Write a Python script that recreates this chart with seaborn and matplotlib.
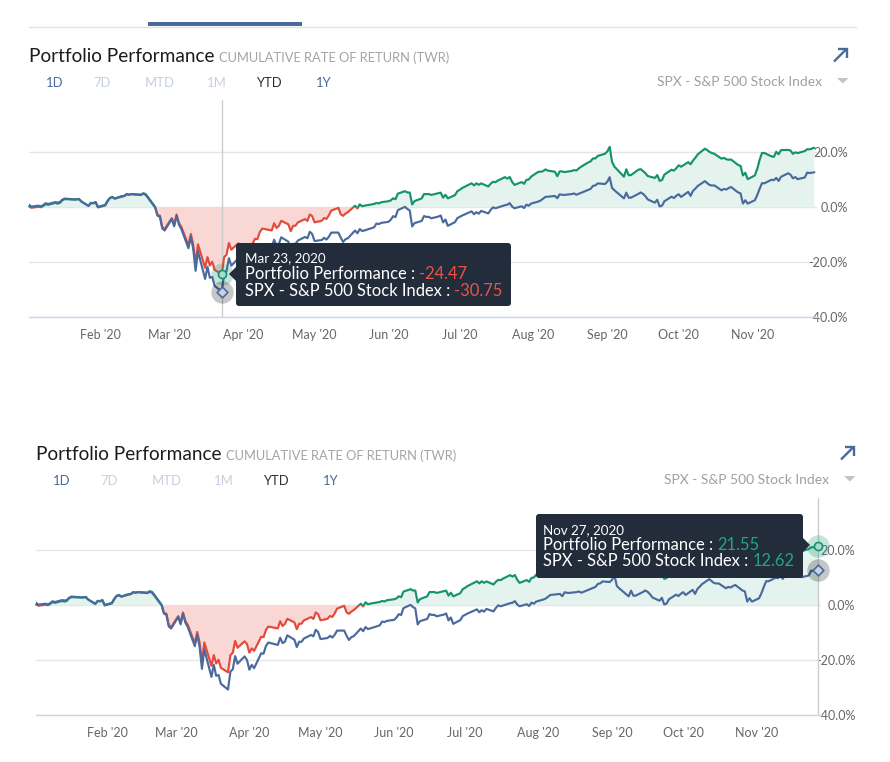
import numpy as np
import pandas as pd
import matplotlib
matplotlib.use("Agg")
import matplotlib.pyplot as plt
import matplotlib.dates as mdates
from matplotlib.patches import Rectangle, Polygon, FancyBboxPatch
import seaborn as sns

W, H = 890, 762

# ---------------- data ----------------
trade_days = [
    "01-02", "01-03", "01-06", "01-07", "01-08", "01-09", "01-10", "01-13", "01-14", "01-15", "01-16",
    "01-17", "01-21", "01-22", "01-23", "01-24", "01-27", "01-28", "01-29", "01-30", "01-31",
    "02-03", "02-04", "02-05", "02-06", "02-07", "02-10", "02-11", "02-12", "02-13", "02-14",
    "02-18", "02-19", "02-20", "02-21", "02-24", "02-25", "02-26", "02-27", "02-28",
    "03-02", "03-03", "03-04", "03-05", "03-06", "03-09", "03-10", "03-11", "03-12", "03-13", "03-16",
    "03-17", "03-18", "03-19", "03-20", "03-23", "03-24", "03-25", "03-26", "03-27", "03-30", "03-31",
    "04-01", "04-02", "04-03", "04-06", "04-07", "04-08", "04-09", "04-13", "04-14", "04-15", "04-16",
    "04-17", "04-20", "04-21", "04-22", "04-23", "04-24", "04-27", "04-28", "04-29", "04-30",
    "05-01", "05-04", "05-05", "05-06", "05-07", "05-08", "05-11", "05-12", "05-13", "05-14", "05-15",
    "05-18", "05-19", "05-20", "05-21", "05-22", "05-26", "05-27", "05-28", "05-29",
    "06-01", "06-02", "06-03", "06-04", "06-05", "06-08", "06-09", "06-10", "06-11", "06-12", "06-15",
    "06-16", "06-17", "06-18", "06-19", "06-22", "06-23", "06-24", "06-25", "06-26", "06-29", "06-30",
    "07-01", "07-02", "07-06", "07-07", "07-08", "07-09", "07-10", "07-13", "07-14", "07-15", "07-16",
    "07-17", "07-20", "07-21", "07-22", "07-23", "07-24", "07-27", "07-28", "07-29", "07-30", "07-31",
    "08-03", "08-04", "08-05", "08-06", "08-07", "08-10", "08-11", "08-12", "08-13", "08-14", "08-17",
    "08-18", "08-19", "08-20", "08-21", "08-24", "08-25", "08-26", "08-27", "08-28", "08-31",
    "09-01", "09-02", "09-03", "09-04", "09-08", "09-09", "09-10", "09-11", "09-14", "09-15", "09-16",
    "09-17", "09-18", "09-21", "09-22", "09-23", "09-24", "09-25", "09-28", "09-29", "09-30",
    "10-01", "10-02", "10-05", "10-06", "10-07", "10-08", "10-09", "10-12", "10-13", "10-14", "10-15",
    "10-16", "10-19", "10-20", "10-21", "10-22", "10-23", "10-26", "10-27", "10-28", "10-29", "10-30",
    "11-02", "11-03", "11-04", "11-05", "11-06", "11-09", "11-10", "11-11", "11-12", "11-13", "11-16",
    "11-17", "11-18", "11-19", "11-20", "11-23", "11-24", "11-25", "11-27",
]

SPX_BASE = 3230.78  # close of 2019-12-31
spx_close = [
    3257.85, 3234.85, 3246.28, 3237.18, 3253.05, 3274.70, 3265.35, 3288.13, 3283.15, 3289.29, 3316.81,
    3329.62, 3320.79, 3321.75, 3325.54, 3295.47, 3243.63, 3276.24, 3273.40, 3283.66, 3225.52,
    3248.92, 3297.59, 3334.69, 3345.78, 3327.71, 3352.09, 3357.75, 3379.45, 3373.94, 3380.16,
    3370.29, 3386.15, 3373.23, 3337.75, 3225.89, 3128.21, 3116.39, 2978.76, 2954.22,
    3090.23, 3003.37, 3130.12, 3023.94, 2972.37, 2746.56, 2882.23, 2741.38, 2480.64, 2711.02, 2386.13,
    2529.19, 2398.10, 2409.39, 2304.92, 2237.40, 2447.33, 2475.56, 2630.07, 2541.47, 2626.65, 2584.59,
    2470.50, 2526.90, 2488.65, 2663.68, 2659.41, 2749.98, 2789.82, 2761.63, 2846.06, 2783.36, 2799.55,
    2874.56, 2823.16, 2736.56, 2799.31, 2797.80, 2836.74, 2878.48, 2863.39, 2939.51, 2912.43,
    2830.71, 2842.74, 2868.44, 2848.42, 2881.19, 2929.80, 2930.32, 2870.12, 2820.00, 2852.50, 2863.70,
    2953.91, 2922.94, 2971.61, 2948.51, 2955.45, 2991.77, 3036.13, 3029.73, 3044.31,
    3055.73, 3080.82, 3122.87, 3112.35, 3193.93, 3232.39, 3207.18, 3190.14, 3002.10, 3041.31, 3066.59,
    3124.74, 3113.49, 3115.34, 3097.74, 3117.86, 3131.29, 3050.33, 3083.76, 3009.05, 3053.24, 3100.29,
    3115.86, 3130.01, 3179.72, 3145.32, 3169.94, 3152.05, 3185.04, 3155.22, 3197.52, 3226.56, 3215.57,
    3224.73, 3251.84, 3257.30, 3276.02, 3235.66, 3215.63, 3239.41, 3218.44, 3258.44, 3246.22, 3271.12,
    3294.61, 3306.51, 3327.77, 3349.16, 3351.28, 3360.47, 3333.69, 3380.35, 3373.43, 3372.85, 3381.99,
    3389.78, 3374.85, 3385.51, 3397.16, 3431.28, 3443.62, 3478.73, 3484.55, 3508.01, 3500.31,
    3526.65, 3580.84, 3455.06, 3426.96, 3331.84, 3398.96, 3339.19, 3340.97, 3383.54, 3401.20, 3385.49,
    3357.01, 3319.47, 3281.06, 3315.57, 3236.92, 3246.59, 3298.46, 3351.60, 3335.47, 3363.00,
    3380.80, 3348.42, 3408.60, 3360.97, 3419.44, 3446.83, 3477.14, 3534.22, 3511.93, 3488.67, 3483.34,
    3483.81, 3426.92, 3443.12, 3435.56, 3453.49, 3465.39, 3400.97, 3390.68, 3271.03, 3310.11, 3269.96,
    3310.24, 3369.16, 3443.44, 3510.45, 3509.44, 3550.50, 3545.53, 3572.66, 3537.01, 3585.15, 3626.91,
    3609.53, 3567.79, 3581.87, 3557.54, 3577.59, 3635.41, 3629.65, 3638.35,
]

portfolio_pct = [
    0.20, -0.27, 0.08, -0.10, 0.39, 1.06, 0.77, 1.48, 1.22, 1.51, 2.46,
    2.86, 2.69, 2.72, 2.83, 2.00, 0.40, 1.51, 1.42, 1.84, 0.04,
    0.76, 2.27, 3.32, 3.66, 3.10, 3.95, 4.03, 4.70, 4.53, 4.72,
    4.52, 5.01, 4.71, 3.61, 0.05, -2.97, -3.14, -7.30, -8.06,
    -4.05, -6.54, -2.72, -5.80, -7.20, -13.99, -9.79, -13.65, -20.72, -13.59, -22.14,
    -18.22, -21.27, -19.92, -22.86, -24.47, -18.25, -17.38, -13.09, -15.54, -13.20, -14.20,
    -17.33, -15.79, -16.67, -11.55, -11.69, -9.08, -7.85, -8.52, -5.91, -7.65, -6.85,
    -5.03, -6.32, -8.80, -6.85, -6.80, -5.60, -4.40, -5.07, -2.72, -3.35,
    -5.58, -5.01, -4.02, -4.34, -3.02, -1.32, -0.30, -2.66, -3.21, -2.41, -1.86,
    0.43, -0.53, 0.98, 0.26, 0.48, 1.10, 1.48, 1.28, 1.73,
    2.08, 2.36, 3.16, 2.83, 4.86, 5.75, 5.27, 5.24, 0.92, 2.14, 3.12,
    4.72, 4.67, 4.73, 4.38, 5.00, 5.22, 3.41, 4.45, 3.14, 4.30, 5.76,
    6.24, 6.88, 8.62, 7.85, 8.62, 8.06, 8.58, 7.46, 8.47, 9.17, 9.03,
    9.61, 10.85, 10.32, 10.90, 9.15, 8.03, 9.07, 8.42, 9.86, 9.98, 11.05,
    12.78, 12.84, 13.00, 13.66, 13.23, 12.81, 11.19, 12.93, 12.92, 12.70, 13.08,
    13.42, 13.26, 13.99, 14.65, 16.21, 16.59, 17.67, 17.65, 18.58, 19.34,
    20.16, 21.84, 16.44, 14.67, 11.03, 13.71, 11.56, 11.61, 13.53, 13.77, 13.09,
    12.31, 11.25, 10.56, 11.62, 9.49, 9.79, 11.79, 13.54, 13.24, 14.09,
    15.14, 14.64, 16.30, 15.53, 16.84, 17.89, 19.13, 21.19, 20.70, 19.98, 19.62,
    19.33, 17.57, 17.87, 17.34, 17.19, 17.26, 15.27, 14.95, 11.45, 12.46, 10.11,
    11.46, 13.78, 17.08, 19.66, 19.63, 18.40, 18.24, 20.08, 19.18, 20.67, 20.76,
    20.52, 19.33, 19.87, 19.61, 20.33, 21.02, 20.95, 21.55,
]

month_ticks = ["2020-02-01", "2020-03-01", "2020-04-01", "2020-05-01", "2020-06-01",
               "2020-07-01", "2020-08-01", "2020-09-01", "2020-10-01", "2020-11-01"]
month_labels = ["Feb '20", "Mar '20", "Apr '20", "May '20", "Jun '20",
                "Jul '20", "Aug '20", "Sep '20", "Oct '20", "Nov '20"]
y_ticks = [-40, -20, 0, 20]
y_labels = ["-40.0%", "-20.0%", "0.0%", "20.0%"]
range_buttons = ["1D", "7D", "MTD", "1M", "YTD", "1Y"]
series_names = ["Portfolio Performance", "SPX - S&P 500 Stock Index"]
hover_dates = ["2020-03-23", "2020-11-27"]
hover_labels = ["Mar 23, 2020", "Nov 27, 2020"]

# ---------------- style ----------------
BLUE = "#4a6a9d"
GREEN = "#15926f"
RED = "#e4493b"
GREEN_FILL = "#e5f3ef"
RED_FILL = "#f9d7d4"
TIP_BG = "#232c3a"
VAL_RED = "#ea5446"
VAL_GREEN = "#22a487"
BTN_COLORS = ["#4a6a9b", "#c6d0de", "#c6d0de", "#c6d0de", "#2e2e2e", "#4a6a9b"]
LW = 1.55

sns.set_theme(style="white")
plt.rcParams["font.family"] = ["Lato", "DejaVu Sans"]

fig = plt.figure(figsize=(W / 100, H / 100), dpi=100)
fig.patch.set_facecolor("white")


def px_axes(l, t, r, b, **kw):
    return fig.add_axes([l / W, 1 - b / H, (r - l) / W, (b - t) / H], **kw)


df = pd.DataFrame({
    "date": pd.to_datetime(["2020-" + d for d in trade_days]),
    "spx": (np.array(spx_close) / SPX_BASE - 1) * 100,
    "port": np.array(portfolio_pct),
})

X0 = pd.Timestamp("2020-01-02")
X1 = pd.Timestamp("2020-11-28 03:00")


def draw_panel(ax, hover, ypad):
    x = df["date"]
    p = df["port"]
    ax.fill_between(x, p, 0, where=p >= 0, interpolate=True, color=GREEN_FILL, lw=0, zorder=1)
    ax.fill_between(x, p, 0, where=p <= 0, interpolate=True, color=RED_FILL, lw=0, zorder=1)
    sns.lineplot(data=df, x="date", y="port", ax=ax, color=GREEN, lw=LW, zorder=3)
    up = ax.lines[-1]
    sns.lineplot(data=df, x="date", y="port", ax=ax, color=RED, lw=LW, zorder=3)
    dn = ax.lines[-1]
    sns.lineplot(data=df, x="date", y="spx", ax=ax, color=BLUE, lw=LW, zorder=4)
    lo, hi = mdates.date2num(X0) - 30, mdates.date2num(X1) + 30
    up.set_clip_path(Rectangle((lo, 0), hi - lo, 300, transform=ax.transData))
    dn.set_clip_path(Rectangle((lo, -300), hi - lo, 300, transform=ax.transData))

    ax.set_xlim(X0, X1)
    ax.set_ylim(-40, 38.9)

    hd = pd.Timestamp(hover)
    ax.axvline(hd, color="#cccccc", lw=1, zorder=2)
    row = df[df["date"] == hd].iloc[0]
    ax.scatter([hd], [row["port"]], s=260, color=GREEN, alpha=0.25, lw=0, zorder=6, clip_on=False)
    ax.scatter([hd], [row["port"]], s=34, facecolor="#a6dccd", edgecolor=GREEN, lw=1.2, zorder=7, clip_on=False)
    ax.scatter([hd], [row["spx"]], s=260, color="black", alpha=0.22, lw=0, zorder=6, clip_on=False)
    ax.scatter([hd], [row["spx"]], s=30, marker="D", facecolor="#c9d2e0", edgecolor=BLUE, lw=1.2,
               zorder=7, clip_on=False)

    ax.yaxis.tick_right()
    ax.set_xticks(pd.to_datetime(month_ticks))
    ax.set_xticklabels(month_labels)
    ax.set_yticks(y_ticks)
    ax.set_yticklabels(y_labels)
    for t in ax.get_yticklabels():
        t.set_horizontalalignment("right")
    ax.grid(axis="y", color="#e6e6e6", lw=1)
    ax.grid(axis="x", visible=False)
    ax.set_axisbelow(True)
    for s in ["top", "left", "right"]:
        ax.spines[s].set_visible(False)
    ax.spines["bottom"].set_color("#ccd6eb")
    ax.spines["bottom"].set_linewidth(1)
    ax.tick_params(axis="both", length=0, labelsize=9, labelcolor="#666666")
    ax.tick_params(axis="x", pad=8.5)
    ax.tick_params(axis="y", pad=ypad)
    ax.set_xlabel("")
    ax.set_ylabel("")
    ax.patch.set_alpha(0)


ax1 = px_axes(29, 100, 817, 317)
draw_panel(ax1, hover_dates[0], 22.3)
ax2 = px_axes(36, 498, 821, 715)
draw_panel(ax2, hover_dates[1], 24.6)

# ---------------- overlay (header, tooltips) ----------------
ov = fig.add_axes([0, 0, 1, 1], zorder=10)
ov.set_xlim(0, W)
ov.set_ylim(H, 0)
ov.axis("off")
ov.patch.set_alpha(0)
renderer = fig.canvas.get_renderer()

# tab strip
ov.plot([29, 856], [26.5, 26.5], color="#e2e2e2", lw=1)
ov.add_patch(Rectangle((148, 21.8), 154, 4.4, color="#4a6a9b", lw=0))

btn_x = [45.7, 93.3, 144.3, 206.7, 256, 316]


def header(dx, dy, spx_right):
    t = ov.text(29.3 + dx, 61.7 + dy, "Portfolio Performance", fontsize=13.7, color="#1c1c1c",
                va="baseline", ha="left")
    bb = t.get_window_extent(renderer=renderer)
    ov.text(bb.x1 + 4, 61.7 + dy, "CUMULATIVE RATE OF RETURN (TWR)", fontsize=9.3, color="#a4a4a4",
            va="baseline", ha="left")
    for lab, bx, col in zip(range_buttons, btn_x, BTN_COLORS):
        ov.text(bx + dx, 87 + dy, lab, fontsize=9.4, color=col, va="baseline", ha="left")
    ov.text(spx_right, 86 + dy, series_names[1], fontsize=10, color="#a0a0a0", va="baseline", ha="right")
    ov.add_patch(Polygon([(837 + dx, 78 + dy), (848.5 + dx, 78 + dy), (842.75 + dx, 83.5 + dy)],
                         closed=True, color="#c4c4c4", lw=0))
    ov.plot([834 + dx, 846.5 + dx], [61.5 + dy, 49 + dy], color="#4a6a9b", lw=1.7,
            solid_capstyle="butt")
    ov.plot([838 + dx, 847 + dx, 847 + dx], [48.5 + dy, 48.5 + dy, 57.5 + dy], color="#4a6a9b", lw=1.7,
            solid_capstyle="butt", solid_joinstyle="miter")


header(0, 0, 822)
header(7, 398, 829)


def tooltip(x0, y0, x1, y1, tip, side, date_txt, v1, v2, vcol, tx, base):
    ov.add_patch(FancyBboxPatch((x0, y0), x1 - x0, y1 - y0, boxstyle="round,pad=0,rounding_size=3",
                                fc=TIP_BG, ec="none"))
    if side == "left":
        tri = [(x0 + 1, tip[1] - 8), tip, (x0 + 1, tip[1] + 8)]
    else:
        tri = [(x1 - 1, tip[1] - 8), tip, (x1 - 1, tip[1] + 8)]
    ov.add_patch(Polygon(tri, closed=True, fc=TIP_BG, ec="none"))
    ov.text(tx, base[0], date_txt, fontsize=9.6, color="white", va="baseline", ha="left")
    for name, val, b in zip(series_names, [v1, v2], base[1:]):
        t = ov.text(tx, b, name + " :", fontsize=11.9, color="white", va="baseline", ha="left")
        bb = t.get_window_extent(renderer=renderer)
        ov.text(bb.x1 + 4, b, val, fontsize=11.9, color=vcol, va="baseline", ha="left")


r0 = df[df["date"] == pd.Timestamp(hover_dates[0])].iloc[0]
r1 = df[df["date"] == pd.Timestamp(hover_dates[1])].iloc[0]
tooltip(236, 243, 511, 306, (229, 274), "left", hover_labels[0],
        f"{r0['port']:.2f}", f"{r0['spx']:.2f}", VAL_RED, 245, (262.5, 279, 295.5))
tooltip(536, 514, 803, 578, (810, 545), "right", hover_labels[1],
        f"{r1['port']:.2f}", f"{r1['spx']:.2f}", VAL_GREEN, 543, (534, 550, 566))

fig.savefig("out.png", dpi=100, facecolor="white")
